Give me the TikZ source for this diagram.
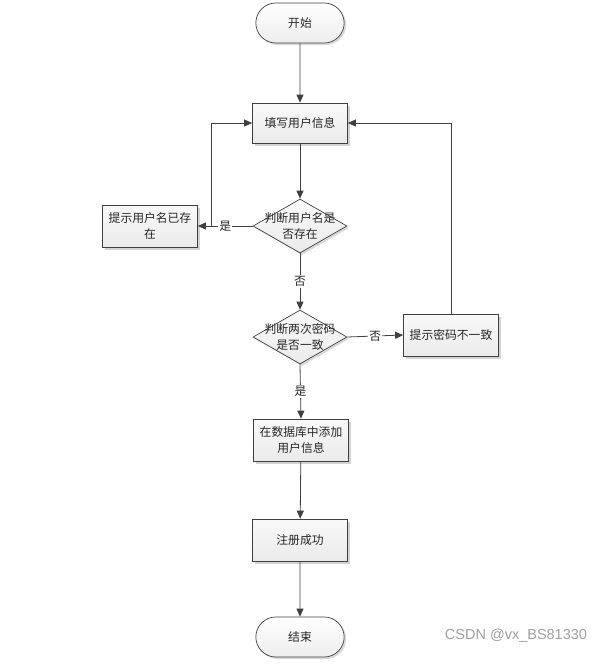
\documentclass[tikz,border=0pt]{standalone}
\usepackage{fontspec}
\setmainfont{Noto Sans CJK SC}
\newfontfamily\wmfont{Liberation Sans}
\usetikzlibrary{
	arrows.meta,
	shadows,
	shapes.geometric,
	shapes.misc,
}

\begin{document}
\begin{tikzpicture}[x=1pt, y=-1pt,
	every node/.style={font=\fontsize{11.8}{16}\selectfont, text=black!85},
	term/.style={rounded rectangle, draw=black!75, line width=0.7pt, top color=white, bottom color=gray!14,
			minimum width=95pt, minimum height=40pt, drop shadow={shadow xshift=2pt, shadow yshift=-2pt, opacity=0.3}},
	proc/.style={rectangle, draw=black!75, line width=0.7pt, top color=gray!5, bottom color=gray!16,
			minimum width=95pt, minimum height=42pt, align=center, inner sep=2pt,
			drop shadow={shadow xshift=2.5pt, shadow yshift=-2.5pt, opacity=0.35}},
	decide/.style={diamond, draw=black!75, line width=0.7pt, top color=gray!5, bottom color=gray!16,
			minimum width=94pt, minimum height=54pt, inner sep=0pt,
			drop shadow={shadow xshift=2pt, shadow yshift=-2pt, opacity=0.3}},
	line/.style={draw=black!75, line width=0.8pt},
	arr/.style={line, -{Triangle[length=8pt, width=7pt]}},
	tag/.style={fill=white, inner sep=1pt},
]

	\useasboundingbox (0,0) rectangle (607,665);

	% 开始和结束
	\node[term] (start) at (300,23) {开始};
	\node[term] (stop) at (300,637) {结束};

	% 处理框
	\node[proc, minimum height=40pt] (fill) at (300,123) {填写用户信息};
	\node[proc] (exist) at (150,226) {提示用户名已存\\在};
	\node[proc] (diff) at (451,335) {提示密码不一致};
	\node[proc] (add) at (301,440) {在数据库中添加\\用户信息};
	\node[proc] (ok) at (300,540) {注册成功};

	% 判断框(文字另放)
	\node[decide] (chk1) at (300,226) {};
	\node[align=center] (chk1txt) at (chk1) {判断用户名是\\否存在};
	\node[decide] (chk2) at (300,337) {};
	\node[align=center] (chk2txt) at (chk2) {判断两次密码\\是否一致};

	% 连线
	\draw[arr] (start) -- (fill);
	\draw[arr] (fill) -- (chk1);
	\draw[arr] (chk1.west) -- node[tag] {是} (exist.east);
	\coordinate (back) at (211,226);
	\draw[arr] (back) |- (fill.west);
	\draw[arr] (chk1.south) -- node[tag] {否} (chk2.north);
	\draw[arr] (chk2.east) -- node[tag] {否} (diff.west);
	\draw[arr] (diff.north) |- (fill.east);
	\draw[arr] (chk2.south) -- node[tag] {是} (add.north);
	\draw[arr] (add) -- (ok);
	\draw[arr] (ok) -- (stop);

	% 水印
	\node[font=\wmfont\fontsize{14.5}{16}\selectfont, text=gray!75] (mark) at (516,636) {CSDN @vx\_BS81330};

\end{tikzpicture}
\end{document}
